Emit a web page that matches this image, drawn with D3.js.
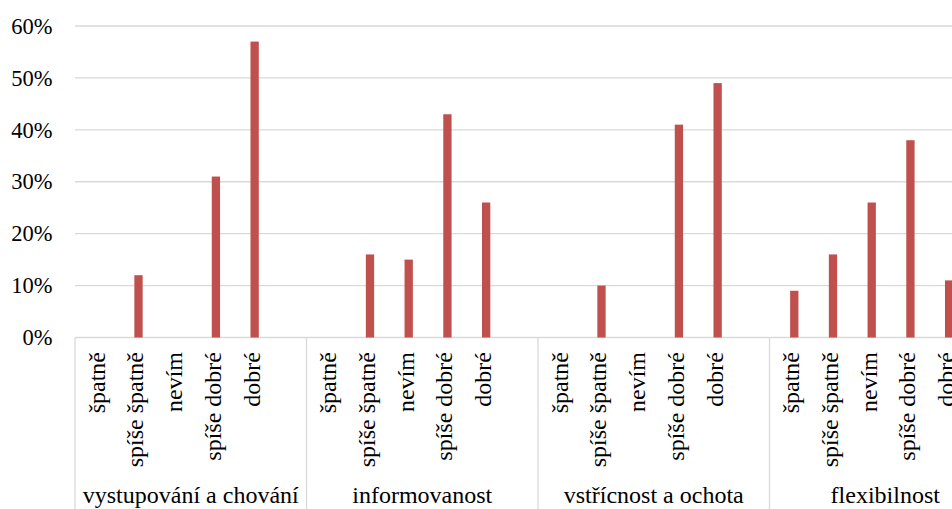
<!DOCTYPE html>
<html>
<head>
<meta charset="utf-8">
<script src="https://cdn.jsdelivr.net/npm/d3@7"></script>
</head>
<body style="margin:0">
<svg id="chart" width="952" height="509"></svg>
<script>
// Groups (outer category level) and answers (inner level)
const groups = ["vystupování a chování", "informovanost", "vstřícnost a ochota", "flexibilnost"];
const answers = ["špatně", "spíše špatně", "nevím", "spíše dobré", "dobré"];

// Share of answers per group
const vystupovaniAChovani = [0, 0.12, 0, 0.31, 0.57];
const informovanost = [0, 0.16, 0.15, 0.43, 0.26];
const vstricnostAOchota = [0, 0.10, 0, 0.41, 0.49];
const flexibilnost = [0.09, 0.16, 0.26, 0.38, 0.11];

const yTicks = [0, 0.1, 0.2, 0.3, 0.4, 0.5, 0.6];

const seriesByGroup = [vystupovaniAChovani, informovanost, vstricnostAOchota, flexibilnost];
const rows = [];
groups.forEach((g, gi) => {
  answers.forEach((a, ai) => rows.push({ group: g, answer: a, value: seriesByGroup[gi][ai] }));
});

const W = 952, H = 509;
const plotLeft = 75, plotTop = 26, plotBottom = 337.5;
const groupW = 231.5;
const FONT = "Liberation Serif";
const BASE = 48; // text is set large and scaled down to the wanted size
const svg = d3.select("#chart");

const x0 = d3.scaleBand().domain(groups).range([plotLeft, plotLeft + groupW * groups.length]);
const x1 = d3.scaleBand().domain(answers).range([0, x0.bandwidth()])
  .paddingInner(0).paddingOuter(0.49).align(0.143);
const y = d3.scaleLinear().domain([0, 0.6]).range([plotBottom, plotTop]);

const tickSize = 22.5;
const catSize = 24;
const grid = "#d9d9d9";

function serif(sel) {
  sel.attr("font-family", FONT)
    .style("font-family", `'${FONT}'`)
    .style("font-size", BASE + "px")
    .attr("fill", "#000");
}

// Gridlines
svg.append("g")
  .selectAll("line")
  .data(yTicks)
  .join("line")
  .attr("x1", plotLeft).attr("x2", W)
  .attr("y1", d => y(d)).attr("y2", d => y(d))
  .attr("stroke", grid).attr("stroke-width", 1.3);

// Y axis labels
const yAxis = d3.axisLeft(y).tickValues(yTicks).tickFormat(d3.format(".0%")).tickSize(0).tickPadding(0);
const ya = svg.append("g").attr("transform", `translate(${plotLeft - 22.5},0)`).call(yAxis);
ya.attr("font-family", FONT).attr("font-size", null);
ya.select(".domain").remove();
ya.selectAll("text")
  .call(serif)
  .attr("transform", `scale(${tickSize / BASE})`);

// Group separators on the category axis
const bounds = groups.map(g => x0(g)).concat([x0(groups[groups.length - 1]) + x0.bandwidth()]);
svg.append("g")
  .selectAll("line")
  .data(bounds)
  .join("line")
  .attr("x1", d => d).attr("x2", d => d)
  .attr("y1", plotBottom).attr("y2", H)
  .attr("stroke", grid).attr("stroke-width", 1.3);

// Bars
const barW = 8.3;
svg.append("g")
  .selectAll("rect")
  .data(rows.filter(r => r.value > 0))
  .join("rect")
  .attr("x", d => x0(d.group) + x1(d.answer) + x1.bandwidth() / 2 - barW / 2)
  .attr("width", barW)
  .attr("y", d => y(d.value))
  .attr("height", d => y(0) - y(d.value))
  .attr("fill", "#c0504d");

// Inner category labels (rotated)
svg.append("g")
  .selectAll("text")
  .data(rows)
  .join("text")
  .attr("transform", d => `translate(${x0(d.group) + x1(d.answer) + x1.bandwidth() / 2 - 3},352) rotate(-90) scale(${catSize / BASE})`)
  .attr("text-anchor", "end")
  .attr("dominant-baseline", "central")
  .call(serif)
  .text(d => d.answer);

// Outer category labels
svg.append("g")
  .selectAll("text")
  .data(groups)
  .join("text")
  .attr("transform", d => `translate(${x0(d) + x0.bandwidth() / 2},503) scale(${catSize / BASE})`)
  .attr("text-anchor", "middle")
  .call(serif)
  .text(d => d);
</script>
</body>
</html>
